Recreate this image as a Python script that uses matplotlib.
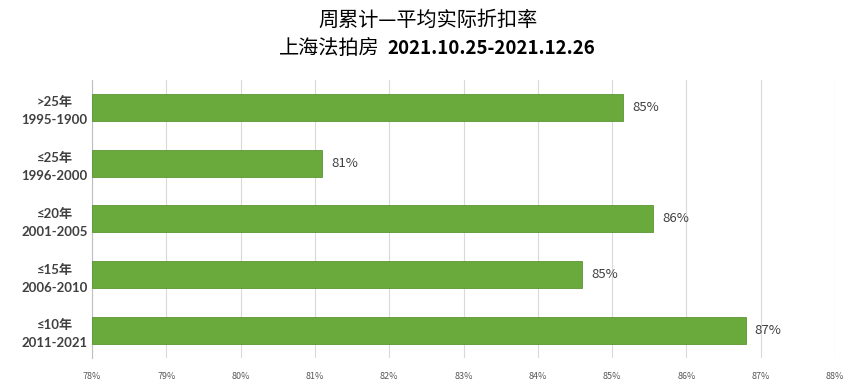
import matplotlib
matplotlib.use("Agg")
import matplotlib.pyplot as plt
import numpy as np

plt.rcParams['font.family'] = ['Noto Sans CJK SC', 'DejaVu Sans']

categories = [">25年\n1995-1900", "≤25年\n1996-2000", "≤20年\n2001-2005", "≤15年\n2006-2010", "≤10年\n2011-2021"]
values = [85.15, 81.1, 85.55, 84.6, 86.8]
labels = ["85%", "81%", "86%", "85%", "87%"]
xticks = list(range(78, 89))

fig = plt.figure(figsize=(8.56, 3.86), dpi=100)
ax = fig.add_axes([0.1075, 0.072, 0.868, 0.722])

y = np.arange(len(categories))
ax.barh(y, [v - 78 for v in values], left=78, height=0.48, color='#6aaa3c',
        edgecolor='#5a9632', linewidth=0.6, zorder=3)
for yi, v, l in zip(y, values, labels):
    ax.text(v + 0.12, yi, l, va='center', ha='left', fontsize=9.5, color='#404040', zorder=4)

ax.set_xlim(78, 88)
ax.set_ylim(len(categories) - 0.5, -0.5)
ax.set_xticks(xticks)
ax.set_xticklabels([f"{t}%" for t in xticks], fontsize=6.5, color='#595959')
ax.set_yticks(y)
ax.set_yticklabels(categories, fontsize=9.5, fontweight='bold', color='#404040', linespacing=1.6,
                   family=['Lato', 'DejaVu Sans', 'Noto Sans CJK SC'], ha='center')
ax.tick_params(axis='both', length=0)
ax.tick_params(axis='y', pad=27)
ax.tick_params(axis='x', pad=10)
ax.grid(axis='x', color='#d9d9d9', linewidth=0.8, zorder=0)
for s in ['top', 'right', 'bottom']:
    ax.spines[s].set_visible(False)
ax.spines['left'].set_color('#bfbfbf')
ax.spines['left'].set_linewidth(0.8)

fig.text(0.5, 0.948, "周累计—平均实际折扣率", ha='center', va='center', fontsize=14.5, color='black')
fig.text(0.443, 0.875, "上海法拍房", ha='right', va='center', fontsize=14.5, color='black')
fig.text(0.452, 0.875, "2021.10.25-2021.12.26", ha='left', va='center', fontsize=13.5,
         color='black', fontweight='bold')

fig.savefig("out.png", dpi=100)
